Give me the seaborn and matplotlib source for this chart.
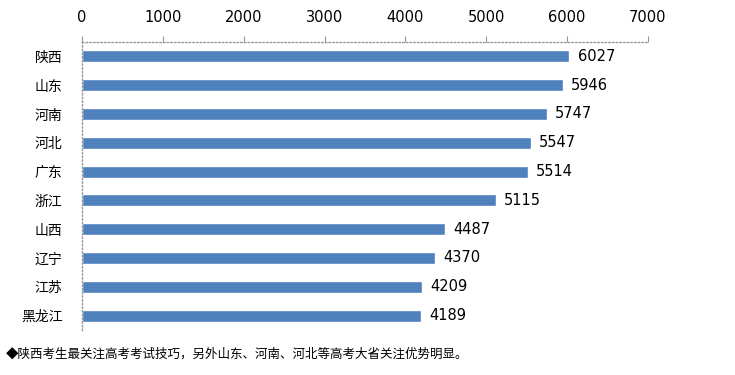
import matplotlib
matplotlib.use("Agg")
import matplotlib.pyplot as plt
import seaborn as sns
import pandas as pd
import numpy as np

# Data
provinces = ["陕西", "山东", "河南", "河北", "广东", "浙江", "山西", "辽宁", "江苏", "黑龙江"]
counts = [6027, 5946, 5747, 5547, 5514, 5115, 4487, 4370, 4209, 4189]
x_ticks = [0, 1000, 2000, 3000, 4000, 5000, 6000, 7000]
note = "◆陕西考生最关注高考考试技巧，另外山东、河南、河北等高考大省关注优势明显。"

sns.set_style("white")
plt.rcParams['font.family'] = ['Noto Sans CJK SC', 'DejaVu Sans']
plt.rcParams['text.color'] = 'black'
plt.rcParams['xtick.labelcolor'] = 'black'
plt.rcParams['ytick.labelcolor'] = 'black'

df = pd.DataFrame({"province": provinces, "count": counts})

fig = plt.figure(figsize=(7.35, 3.75), dpi=100)
ax = fig.add_axes([0.1116, 0.12, 0.77, 0.768])

sns.barplot(data=df, y="province", x="count", orient="h", color="#4F81BD",
            saturation=1, width=0.42, ax=ax)

# Formatting
ax.set_xlim(0, 7000)
ax.set_ylim(len(provinces) - 0.5, -0.5)
ax.xaxis.tick_top()
ax.set_xticks(x_ticks)
ax.set_xticklabels([str(t) for t in x_ticks], fontsize=10.5, family='DejaVu Sans')
ax.tick_params(axis='x', length=4, width=0.8, color='#999999', pad=8)
ax.set_yticks(range(len(provinces)))
ax.set_yticklabels(provinces, fontsize=10)
ax.tick_params(axis='y', which='major', length=0, pad=14)
ax.set_yticks(np.arange(-0.5, len(provinces), 1), minor=True)
ax.tick_params(axis='y', which='minor', length=4, width=0.8, color='#999999')
ax.set_xlabel("")
ax.set_ylabel("")

for side in ["right", "bottom"]:
    ax.spines[side].set_visible(False)
for side in ["top", "left"]:
    ax.spines[side].set_color('#999999')
    ax.spines[side].set_linestyle(':')
    ax.spines[side].set_linewidth(1)

ax.bar_label(ax.containers[0], labels=[str(v) for v in counts], padding=6,
             fontsize=10.5, family='DejaVu Sans', color='black')

fig.text(0.008, 0.055, note, fontsize=9, ha='left', va='center', color='black')

fig.savefig("out.png", dpi=100)
plt.close(fig)
